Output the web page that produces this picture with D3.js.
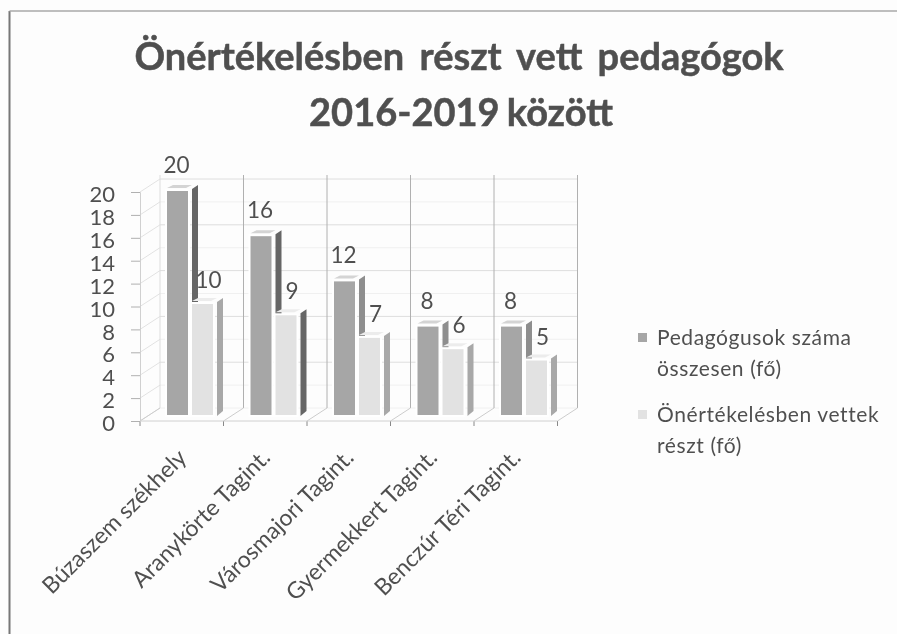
<!DOCTYPE html>
<html><head><meta charset="utf-8">
<script src="https://cdn.jsdelivr.net/npm/d3@7/dist/d3.min.js"></script>
<style>html,body{margin:0;padding:0;background:#fdfdfd}svg{display:block}text{font-family:Lato,"Open Sans",sans-serif}</style>
</head><body><svg id="c" width="897" height="634"></svg>
<script>
const titleLines=["Önértékelésben részt vett pedagógok","2016-2019 között"];
const categories=["Búzaszem székhely","Aranykörte Tagint.","Városmajori Tagint.","Gyermekkert Tagint.","Benczúr Téri Tagint."];
const seriesNames=["Pedagógusok száma összesen (fő)","Önértékelésben vettek részt (fő)"];
const total=[20,16,12,8,8];
const participated=[10,9,7,6,5];
const ticks=d3.range(0,21,2);
const legendLines=[["Pedagógusok száma","összesen (fő)"],["Önértékelésben vettek","részt (fő)"]];

const svg=d3.select("#c");
const defs=svg.append("defs");
defs.append("filter").attr("id","soft").append("feGaussianBlur").attr("stdDeviation",0.7);
const g=svg.append("g").attr("filter","url(#soft)");
const ink="#505050";
const dx=20,dy=-13;
const x=d3.scaleBand().domain(categories).range([140,557.5]);
const y=d3.scaleLinear().domain([0,20]).range([421,192]);
const barY=d3.scaleLinear().domain([0,20]).range([416,190]);
const inner=d3.scaleBand().domain([0,1]).range([26,74]).paddingInner(0.08);

// frame
g.append("path").attr("d","M9.5,634V11").attr("fill","none").attr("stroke","#777").attr("stroke-width",2);
g.append("path").attr("d","M9.5,11H897").attr("fill","none").attr("stroke","#aaa").attr("stroke-width",1.5);

// title
g.selectAll(".t").data(titleLines).join("text").attr("x",(d,i)=>i?461:459).attr("y",(d,i)=>70+i*56)
 .attr("text-anchor","middle").attr("font-size",38).attr("font-weight",700).attr("word-spacing",(d,i)=>i?-2:6)
 .attr("stroke",ink).attr("stroke-width",0.5).attr("fill",ink).text(d=>d);

// walls
ticks.forEach(t=>{
  g.append("line").attr("x1",x.range()[0]).attr("x2",x.range()[0]+dx).attr("y1",y(t)).attr("y2",y(t)+dy).attr("stroke","#e2e2e2");
  g.append("line").attr("x1",x.range()[0]+dx).attr("x2",x.range()[1]+dx).attr("y1",y(t)+dy).attr("y2",y(t)+dy).attr("stroke",t%4==0&&t?"#dedede":"#f0f0f0");
});
[...categories.map(c=>x(c)),x.range()[1]].forEach((v,i)=>{
  g.append("line").attr("x1",v+dx).attr("x2",v+dx).attr("y1",y(0)+dy).attr("y2",y(20)+dy-4).attr("stroke",i?"#b0b0b0":"#ddd");
  g.append("line").attr("x1",v).attr("x2",v+dx).attr("y1",y(0)).attr("y2",y(0)+dy).attr("stroke","#ccc");
  g.append("line").attr("x1",v).attr("x2",v).attr("y1",y(0)).attr("y2",y(0)+5).attr("stroke","#888");
});
g.append("line").attr("x1",x.range()[0]).attr("x2",x.range()[1]).attr("y1",y(0)).attr("y2",y(0)).attr("stroke","#d0d0d0");
// y axis
const ya=g.append("g").attr("transform",`translate(${x.range()[0]},0)`).call(d3.axisLeft(y).tickValues(ticks).tickSize(9).tickPadding(16));
ya.select(".domain").attr("stroke","#d0d0d0");ya.selectAll("line").attr("stroke","#b0b0b0");
ya.selectAll("text").attr("font-size",22).attr("fill",ink).attr("dy","0.62em").attr("y",-4);

// bars
const colors=[{f:"#a6a6a6",s:"#8e8e8e",t:"#d4d4d4"},{f:"#e2e2e2",s:"#a8a8a8",t:"#ececec"}];
const darkSides=[[0,0],[1,0],[1,1]];
[total,participated].forEach((vals,si)=>{
  const c=colors[si];
  categories.forEach((cat,i)=>{
    const v=vals[i],w=inner.bandwidth(),x0=x(cat)+inner(si),yT=barY(v),yB=barY(0),d=8,e=-5;
    const dark=darkSides.some(p=>p[0]===i&&p[1]===si);
    const bar=g.append("g");
    bar.append("path").attr("d",`M${x0+w+3},${yT-1}l${d-2},${e+1}V${yB+e}l${-d+2},${-e}Z`).attr("fill",dark?"#666":c.s);
    bar.append("path").attr("d",`M${x0+1},${yT-2}l${d-2},${e+2}h${w-4}l${-d+2},${-e-2}Z`).attr("fill",c.t);
    bar.append("rect").attr("x",x0).attr("y",yT).attr("width",w).attr("height",yB-yT).attr("fill",c.f).attr("stroke","#fff").attr("stroke-width",2);
    g.append("text").attr("x",x0+w/2+(si?6:-1)).attr("y",yT-11+(si?-2:-1)).attr("dy",si?-2:-5).attr("text-anchor","middle").attr("font-size",22.5).attr("fill",ink).text(v);
  });
});

// category labels
g.selectAll(".cat").data(categories).join("text")
 .attr("transform",d=>`translate(${x(d)+48},${y(0)+38}) rotate(-45)`)
 .attr("text-anchor","end").attr("font-size",23).attr("fill",ink).text(d=>d);

// legend
const legendY=[345,422];
legendLines.forEach((lines,i)=>{
  const ly=legendY[i];
  g.append("rect").attr("x",638).attr("y",ly-12).attr("width",9).attr("height",9).attr("fill",colors[i].f);
  lines.forEach((l,j)=>g.append("text").attr("x",657).attr("y",ly+j*31).attr("font-size",21).attr("letter-spacing",0.6).attr("fill",ink).text(l));
});
</script></body></html>
